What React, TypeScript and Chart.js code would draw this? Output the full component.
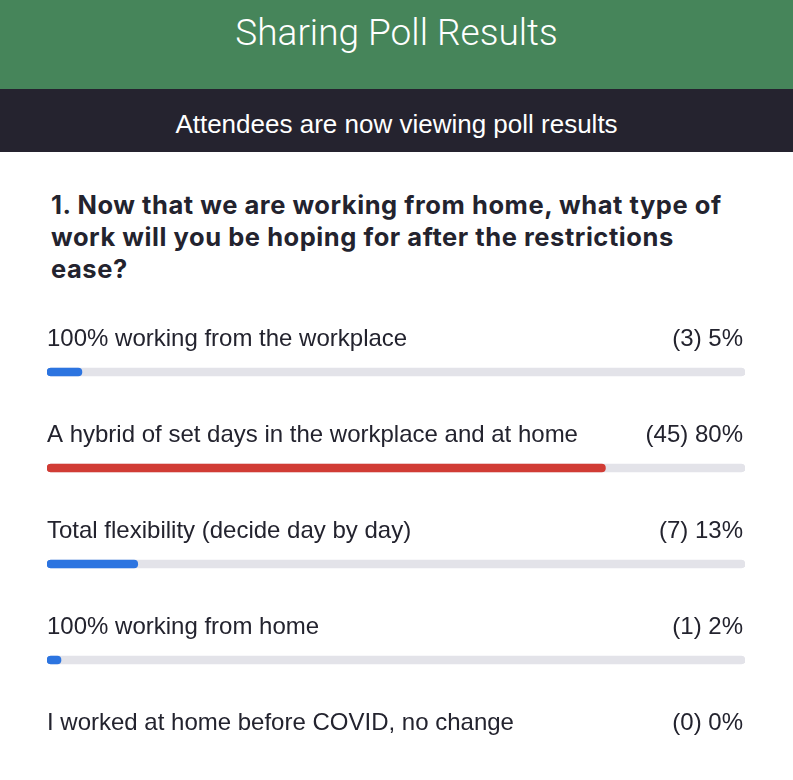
import React, { useEffect, useRef } from "react";
import { Chart, registerables } from "chart.js";

Chart.register(...registerables);

const TITLE = "Sharing Poll Results";
const SUBTITLE = "Attendees are now viewing poll results";
const QUESTION_LINES = [
  "1. Now that we are working from home, what type of",
  "work will you be hoping for after the restrictions",
  "ease?",
];
const OPTIONS = [
  "100% working from the workplace",
  "A hybrid of set days in the workplace and at home",
  "Total flexibility (decide day by day)",
  "100% working from home",
  "I worked at home before COVID, no change",
];
const COUNTS = [3, 45, 7, 1, 0];
const PERCENTS = [5, 80, 13, 2, 0];
const TRACK = [100, 100, 100, 100, null];

const TEXT = "#23232e";
const BLUE = "#2c74e0";
const RED = "#d13c35";
const TRACKC = "#e3e3e9";

export default function App() {
  const ref = useRef<HTMLCanvasElement>(null);
  useEffect(() => {
    document.body.style.margin = "0";
    const maxV = Math.max(...PERCENTS);
    const labelPlugin = {
      id: "pollLabels",
      afterDatasetsDraw(chart: any) {
        const ctx = chart.ctx;
        const meta = chart.getDatasetMeta(0);
        const area = chart.chartArea;
        ctx.save();
        ctx.fillStyle = TEXT;
        ctx.font = "24px 'Liberation Sans', Arial, sans-serif";
        ctx.textBaseline = "middle";
        meta.data.forEach((bar: any, i: number) => {
          const y = bar.y - 33;
          ctx.textAlign = "left";
          ctx.fillText(OPTIONS[i], area.left, y);
          ctx.textAlign = "right";
          ctx.fillText(`(${COUNTS[i]}) ${PERCENTS[i]}%`, area.right - 2, y);
        });
        ctx.restore();
      },
    };
    const chart = new Chart(ref.current!, {
      type: "bar",
      data: {
        labels: OPTIONS,
        datasets: [
          {
            data: PERCENTS,
            backgroundColor: PERCENTS.map((v) =>
              v === 0 ? "rgba(0,0,0,0)" : v === maxV ? RED : BLUE
            ),
            barThickness: 8,
            borderRadius: 4,
            borderSkipped: false,
            grouped: false,
          } as any,
          {
            data: TRACK,
            backgroundColor: TRACKC,
            barThickness: 8,
            borderRadius: 4,
            borderSkipped: false,
            grouped: false,
          } as any,
        ],
      },
      options: {
        indexAxis: "y",
        animation: false,
        responsive: false,
        maintainAspectRatio: false,
        layout: { padding: { left: 47, right: 48, top: 0, bottom: 0 } },
        scales: {
          x: { display: false, min: 0, max: 100 },
          y: { display: false },
        },
        plugins: {
          legend: { display: false },
          tooltip: { enabled: false },
        },
      },
      plugins: [labelPlugin],
    });
    return () => chart.destroy();
  }, []);

  return (
    <div style={{ position: "absolute", left: 0, top: 0, width: 793, background: "#fff" }}>
      <div
        style={{
          height: 89,
          background: "#46855a",
          color: "#fff",
          fontFamily: "Roboto, 'Liberation Sans', sans-serif",
          fontWeight: 300,
          fontSize: 37,
          textAlign: "center",
          lineHeight: "66px",
        }}
      >
        {TITLE}
      </div>
      <div
        style={{
          height: 63,
          background: "#25232f",
          color: "#fff",
          fontFamily: "'Liberation Sans', Arial, sans-serif",
          fontSize: 26,
          textAlign: "center",
          lineHeight: "70px",
        }}
      >
        {SUBTITLE}
      </div>
      <div
        style={{
          padding: "37px 0 0 51px",
          height: 135,
          boxSizing: "border-box",
          color: TEXT,
          fontFamily: "Inter, sans-serif",
          fontWeight: 700,
          fontSize: 25.5,
          letterSpacing: "0.55px",
          lineHeight: "32px",
        }}
      >
        {QUESTION_LINES.map((l, i) => (
          <div key={i}>{l}</div>
        ))}
      </div>
      <canvas ref={ref} width={793} height={480} style={{ display: "block", marginTop: 37 }} />
    </div>
  );
}
